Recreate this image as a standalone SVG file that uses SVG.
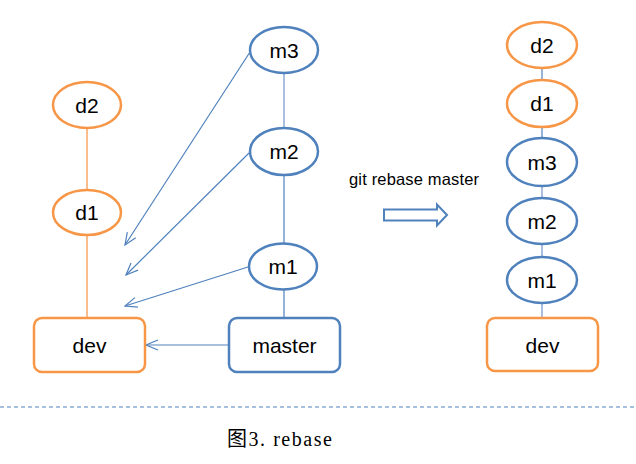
<svg xmlns="http://www.w3.org/2000/svg" width="636" height="464" viewBox="0 0 636 464">
<style>
.o{fill:#fff;stroke:#F79646;stroke-width:2.5}
.b{fill:#fff;stroke:#4F81BD;stroke-width:2.5}
.t{font-family:"Liberation Sans",Arial,sans-serif;font-size:21px;fill:#000;text-anchor:middle}
.cb{stroke:#4F81BD;stroke-width:1.2;fill:none}
.cl{stroke:#8EAAD6;stroke-width:1.5;fill:none}
.co{stroke:#F9A868;stroke-width:1.5;fill:none}
</style>
<defs>
<marker id="ah" viewBox="0 0 14 12" refX="13" refY="6" markerWidth="14" markerHeight="12" markerUnits="userSpaceOnUse" orient="auto">
<polyline points="1,1 13,6 1,11" fill="none" stroke="#4F81BD" stroke-width="1.2"/>
</marker>
</defs>
<g id="connectors">
<line class="co" x1="87" y1="128" x2="87" y2="190"/>
<line class="co" x1="87" y1="235" x2="87" y2="318"/>
<line class="cl" x1="284" y1="73" x2="284" y2="128"/>
<line class="cb" x1="284" y1="175" x2="284" y2="243"/>
<line class="cb" x1="284" y1="290" x2="284" y2="318"/>
<line class="cb" x1="250" y1="52" x2="125" y2="245" marker-end="url(#ah)"/>
<line class="cb" x1="249" y1="153" x2="126" y2="275" marker-end="url(#ah)"/>
<line class="cb" x1="248" y1="267" x2="125" y2="306" marker-end="url(#ah)"/>
<line class="cb" x1="229" y1="345" x2="146" y2="345" marker-end="url(#ah)"/>
<line class="cb" x1="542" y1="68" x2="542" y2="80"/>
<line class="cb" x1="542" y1="127" x2="542" y2="138"/>
<line class="cl" x1="542" y1="186" x2="542" y2="198"/>
<line class="cl" x1="542" y1="244" x2="542" y2="257"/>
<line class="cl" x1="542" y1="303" x2="542" y2="318"/>
</g>
<g id="d2"><ellipse class="o" cx="87" cy="105" rx="34" ry="23"/><text class="t" x="87" y="112.5">d2</text></g>
<g id="d1"><ellipse class="o" cx="87" cy="212.5" rx="34" ry="22.5"/><text class="t" x="87" y="220">d1</text></g>
<g id="m3"><ellipse class="b" cx="284" cy="50" rx="34" ry="23"/><text class="t" x="284" y="57.5">m3</text></g>
<g id="m2"><ellipse class="b" cx="284" cy="151.5" rx="34" ry="23.5"/><text class="t" x="284" y="159">m2</text></g>
<g id="m1"><ellipse class="b" cx="283" cy="266.5" rx="34" ry="23"/><text class="t" x="283" y="274">m1</text></g>
<g id="dev"><rect class="o" x="34" y="318" width="111" height="54" rx="8"/><text class="t" x="89.5" y="353">dev</text></g>
<g id="master"><rect class="b" x="229" y="318" width="111" height="54" rx="8"/><text class="t" x="284.5" y="353">master</text></g>
<g id="r-d2"><ellipse class="o" cx="542" cy="45" rx="35" ry="23"/><text class="t" x="542" y="52.5">d2</text></g>
<g id="r-d1"><ellipse class="o" cx="542" cy="103.5" rx="35" ry="23.5"/><text class="t" x="542" y="111">d1</text></g>
<g id="r-m3"><ellipse class="b" cx="542" cy="162" rx="35" ry="24"/><text class="t" x="542" y="169.5">m3</text></g>
<g id="r-m2"><ellipse class="b" cx="542" cy="221" rx="35" ry="23"/><text class="t" x="542" y="228.5">m2</text></g>
<g id="r-m1"><ellipse class="b" cx="542" cy="280" rx="35" ry="23"/><text class="t" x="542" y="287.5">m1</text></g>
<g id="r-dev"><rect class="o" x="487" y="318" width="111" height="53" rx="8"/><text class="t" x="542.5" y="352.5">dev</text></g>
<g id="rebase-arrow">
<text x="349" y="185" font-family="'Liberation Sans',Arial,sans-serif" font-size="16.5" fill="#000" textLength="130">git rebase master</text>
<polygon points="384,209.5 437,209.5 437,204.5 447,215 437,225.5 437,220.5 384,220.5" fill="#fff" stroke="#4F81BD" stroke-width="2"/>
</g>
<line x1="0" y1="407" x2="636" y2="407" stroke="#4F81BD" stroke-width="1" stroke-dasharray="4,3"/>
<text x="227" y="446" font-family="'Liberation Serif','Noto Sans CJK SC',serif" font-size="20" fill="#000" textLength="105">图3. rebase</text>
</svg>
